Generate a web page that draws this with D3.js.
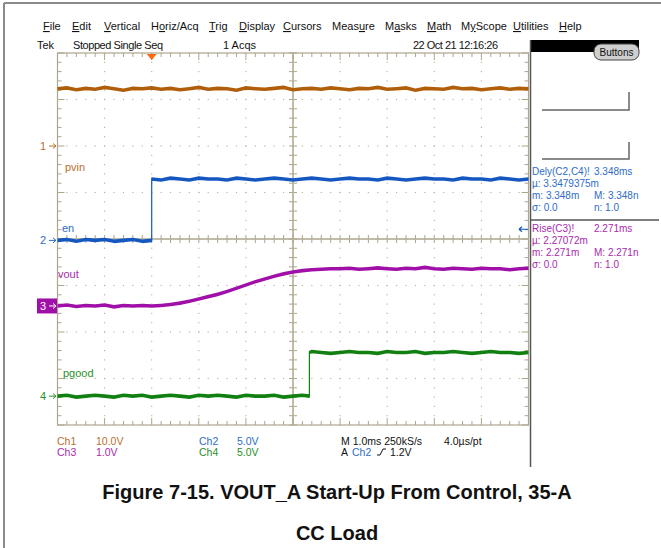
<!DOCTYPE html>
<html>
<head>
<meta charset="utf-8">
<script src="https://cdn.jsdelivr.net/npm/d3@7"></script>
<style>
  body { margin: 0; background: #fff; }
  text { font-family: "Liberation Sans", Arial, sans-serif; }
</style>
</head>
<body>
<div id="scope"></div>
<script>
// scope capture data, times in ms, values in volts
var timeMs = [-2.0,-1.8,-1.6,-1.4,-1.2,-1.0,-0.8,-0.6,-0.4,-0.2,
  0.0,0.2,0.4,0.6,0.8,1.0,1.2,1.4,1.6,1.8,
  2.0,2.2,2.4,2.6,2.8,3.0,3.2,3.4,3.6,3.8,
  4.0,4.2,4.4,4.6,4.8,5.0,5.2,5.4,5.6,5.8,
  6.0,6.2,6.4,6.6,6.8,7.0,7.2,7.4,7.6,7.8,8.0];

var pvinVolts = [12.3,12.5,12.1,12.4,12.2,12.6,12.3,12.0,12.4,12.3,
  12.5,12.2,12.4,12.1,12.3,12.6,12.2,12.4,12.3,12.0,
  12.5,12.3,12.2,12.4,12.6,12.1,12.3,12.4,12.2,12.5,
  12.3,12.1,12.4,12.3,12.6,12.2,12.3,12.5,12.0,12.4,
  12.3,12.2,12.6,12.3,12.4,12.1,12.3,12.5,12.2,12.4,12.3];

var voutVolts = [0.00,0.02,-0.01,0.01,0.00,0.02,-0.02,0.01,0.00,0.01,
  0.00,0.01,0.03,0.06,0.10,0.15,0.20,0.25,0.31,0.38,
  0.45,0.52,0.58,0.64,0.69,0.73,0.76,0.78,0.79,0.80,
  0.80,0.81,0.79,0.80,0.82,0.80,0.79,0.81,0.80,0.83,
  0.80,0.79,0.81,0.80,0.79,0.81,0.80,0.80,0.78,0.80,0.81];

var enTimeMs = [-2.0,-1.8,-1.6,-1.4,-1.2,-1.0,-0.8,-0.6,-0.4,-0.2,
  0.0,0.0,0.2,0.4,0.6,0.8,1.0,1.2,1.4,1.6,1.8,
  2.0,2.2,2.4,2.6,2.8,3.0,3.2,3.4,3.6,3.8,
  4.0,4.2,4.4,4.6,4.8,5.0,5.2,5.4,5.6,5.8,
  6.0,6.2,6.4,6.6,6.8,7.0,7.2,7.4,7.6,7.8,8.0];
var enVolts = [0.0,0.1,-0.1,0.1,0.0,0.1,-0.1,0.0,0.1,-0.1,
  0.0,6.6,6.5,6.7,6.6,6.5,6.7,6.6,6.6,6.5,6.7,
  6.6,6.5,6.6,6.7,6.6,6.5,6.6,6.7,6.6,6.5,
  6.6,6.7,6.6,6.6,6.5,6.7,6.6,6.5,6.6,6.7,
  6.6,6.6,6.5,6.7,6.6,6.6,6.5,6.7,6.6,6.5,6.6];

var pgoodTimeMs = [-2.0,-1.8,-1.6,-1.4,-1.2,-1.0,-0.8,-0.6,-0.4,-0.2,
  0.0,0.2,0.4,0.6,0.8,1.0,1.2,1.4,1.6,1.8,
  2.0,2.2,2.4,2.6,2.8,3.0,3.2,3.348,3.348,3.4,3.6,3.8,
  4.0,4.2,4.4,4.6,4.8,5.0,5.2,5.4,5.6,5.8,
  6.0,6.2,6.4,6.6,6.8,7.0,7.2,7.4,7.6,7.8,8.0];
var pgoodVolts = [0.0,0.1,-0.1,0.0,0.1,0.0,-0.1,0.1,0.0,0.1,
  -0.1,0.0,0.1,0.0,-0.1,0.1,0.0,0.1,0.0,-0.1,
  0.1,0.0,0.0,0.1,-0.1,0.0,0.1,0.0,4.7,4.8,4.7,4.6,
  4.7,4.8,4.7,4.7,4.6,4.8,4.7,4.7,4.8,4.6,
  4.7,4.7,4.8,4.7,4.6,4.7,4.8,4.7,4.7,4.6,4.7];

var menuItems = ["File","Edit","Vertical","Horiz/Acq","Trig","Display","Cursors","Measure","Masks","Math","MyScope","Utilities","Help"];
var menuUnderline = [0,0,0,1,0,0,0,4,1,0,1,0,0];

var W = 661, H = 548;
var gLeft = 57.5, gRight = 528.5, gTop = 53, gBottom = 425;

var svg = d3.select("#scope").append("svg")
  .attr("width", W).attr("height", H);

var x = d3.scaleLinear().domain([-2, 8]).range([gLeft, gRight]);
var yDiv = d3.scaleLinear().domain([-4, 4]).range([gBottom, gTop]);

// channel settings: ground position (divisions) and V/div
var ch = {
  pvin:  { offset: 2.0,   vdiv: 10, color: "#b05e0a", text: "#b8702e" },
  en:    { offset: -0.03, vdiv: 5,  color: "#1557c0", text: "#2d6cc8" },
  vout:  { offset: -1.44, vdiv: 1,  color: "#a010a8", text: "#a82aae" },
  pgood: { offset: -3.38, vdiv: 5,  color: "#118011", text: "#2a8f2a" }
};

// outer frame
svg.append("line").attr("x1", 4).attr("x2", 4).attr("y1", 3).attr("y2", H)
  .attr("stroke", "#8a8a8a").attr("stroke-width", 2);
svg.append("line").attr("x1", 4).attr("x2", W).attr("y1", 3).attr("y2", 3)
  .attr("stroke", "#8a8a8a").attr("stroke-width", 2);

// menu bar
var mx = [43, 72, 104, 151, 209, 239, 283, 332, 385, 427, 461, 513, 559];
menuItems.forEach(function(m, i) {
  var t = svg.append("text").attr("x", mx[i]).attr("y", 30)
    .attr("font-size", 11).attr("fill", "#111");
  var u = menuUnderline[i];
  if (u > 0) t.append("tspan").text(m.slice(0, u));
  t.append("tspan").attr("text-decoration", "underline").text(m[u]);
  t.append("tspan").text(m.slice(u + 1));
});

// status line
var st = svg.append("g").attr("font-size", 11).attr("fill", "#111");
st.append("text").attr("x", 37).attr("y", 49).text("Tek");
st.append("text").attr("x", 73).attr("y", 49).attr("textLength", 90).text("Stopped  Single Seq");
st.append("text").attr("x", 223).attr("y", 49).text("1 Acqs");
st.append("text").attr("x", 413).attr("y", 49).attr("textLength", 85).text("22 Oct 21 12:16:26");

svg.append("rect").attr("x", 530).attr("y", 40).attr("width", 109).attr("height", 12).attr("fill", "#000");
svg.append("rect").attr("x", 594).attr("y", 44).attr("width", 45).attr("height", 16).attr("rx", 7)
  .attr("fill", "#cfcfcf").attr("stroke", "#444");
svg.append("text").attr("x", 616.5).attr("y", 56).attr("text-anchor", "middle")
  .attr("font-size", 10).attr("fill", "#111").text("Buttons");

// right panel divider
svg.append("line").attr("x1", 530.5).attr("x2", 530.5).attr("y1", 40).attr("y2", 467)
  .attr("stroke", "#555").attr("stroke-width", 1.5);

// bracket boxes
[[92, 110], [142, 159]].forEach(function(b) {
  svg.append("path").attr("d", "M542," + b[1] + "H629V" + b[0])
    .attr("fill", "none").attr("stroke", "#666").attr("stroke-width", 1.5);
});

// graticule
var grid = svg.append("g").attr("stroke", "#ada58c").attr("fill", "none");
var divX = d3.range(-2, 8.01, 1);
var divY = d3.range(-4, 4.01, 1);
var minorX = d3.range(-2, 8.001, 0.2);
var minorY = d3.range(-4, 4.001, 0.2);

// dotted grid
var dots = svg.append("g").attr("fill", "#bdb69e");
divX.slice(1, -1).forEach(function(t) {
  minorY.forEach(function(v) {
    dots.append("rect").attr("x", x(t) - 0.6).attr("y", yDiv(v) - 0.6)
      .attr("width", 1.2).attr("height", 1.2);
  });
});
divY.slice(1, -1).forEach(function(v) {
  minorX.forEach(function(t) {
    dots.append("rect").attr("x", x(t) - 0.6).attr("y", yDiv(v) - 0.6)
      .attr("width", 1.2).attr("height", 1.2);
  });
});

grid.append("rect").attr("x", gLeft).attr("y", gTop)
  .attr("width", gRight - gLeft).attr("height", gBottom - gTop).attr("stroke-width", 1.2);
grid.append("line").attr("x1", x(3)).attr("x2", x(3)).attr("y1", gTop).attr("y2", gBottom).attr("stroke-width", 1.5);
grid.append("line").attr("x1", gLeft).attr("x2", gRight).attr("y1", yDiv(0)).attr("y2", yDiv(0)).attr("stroke-width", 1.5);

minorX.forEach(function(t, i) {
  var len = i % 5 === 0 ? 7 : 4;
  grid.append("line").attr("x1", x(t)).attr("x2", x(t)).attr("y1", gTop).attr("y2", gTop + len);
  grid.append("line").attr("x1", x(t)).attr("x2", x(t)).attr("y1", gBottom).attr("y2", gBottom - len);
  grid.append("line").attr("x1", x(t)).attr("x2", x(t)).attr("y1", yDiv(0) - 4).attr("y2", yDiv(0) + 4);
});
minorY.forEach(function(v, i) {
  var len = i % 5 === 0 ? 7 : 4;
  grid.append("line").attr("y1", yDiv(v)).attr("y2", yDiv(v)).attr("x1", gLeft).attr("x2", gLeft + len);
  grid.append("line").attr("y1", yDiv(v)).attr("y2", yDiv(v)).attr("x1", gRight).attr("x2", gRight - len);
  grid.append("line").attr("y1", yDiv(v)).attr("y2", yDiv(v)).attr("x1", x(3) - 4).attr("x2", x(3) + 4);
});

// trigger position marker
svg.append("path")
  .attr("d", "M" + (x(0) - 5) + "," + (gTop + 1) + "L" + (x(0) + 5) + "," + (gTop + 1) + "L" + x(0) + "," + (gTop + 7) + "Z")
  .attr("fill", "#ff6a10");

// traces: drawn in a y-squashed group so the noise band is thick but edges stay thin
var SQ = 3;
var traceG = svg.append("g").attr("transform", "scale(1," + SQ + ")");
function trace(c, ts, vs) {
  var cfg = ch[c];
  var pts = ts.map(function(t, i) { return [t, vs[i]]; });
  var line = d3.line()
    .x(function(d) { return x(d[0]); })
    .y(function(d) { return yDiv(cfg.offset + d[1] / cfg.vdiv) / SQ; });
  traceG.append("path").datum(pts).attr("d", line)
    .attr("fill", "none").attr("stroke", cfg.color).attr("stroke-width", 1.2)
    .attr("stroke-linejoin", "round");
}
trace("pvin", timeMs, pvinVolts);
trace("en", enTimeMs, enVolts);
trace("vout", timeMs, voutVolts);
trace("pgood", pgoodTimeMs, pgoodVolts);

// trace labels
var labels = [["pvin", 65, 171], ["en", 62, 232], ["vout", 58, 278], ["pgood", 63, 377]];
labels.forEach(function(l) {
  svg.append("text").attr("x", l[1]).attr("y", l[2]).attr("font-size", 11)
    .attr("fill", ch[l[0]].text).text(l[0]);
});

// ground markers
var markers = [["pvin", "1"], ["en", "2"], ["vout", "3"], ["pgood", "4"]];
markers.forEach(function(m) {
  var cfg = ch[m[0]];
  var yy = yDiv(cfg.offset);
  if (m[1] === "3") {
    svg.append("rect").attr("x", 37).attr("y", yy - 7.5).attr("width", 20).attr("height", 15).attr("fill", cfg.color);
  }
  var col = m[1] === "3" ? "#fff" : cfg.text;
  svg.append("text").attr("x", 46).attr("y", yy + 4).attr("text-anchor", "end")
    .attr("font-size", 11).attr("fill", col).text(m[1]);
  svg.append("path").attr("d", "M49," + yy + "H56M53," + (yy - 2.5) + "L56," + yy + "L53," + (yy + 2.5))
    .attr("fill", "none").attr("stroke", col).attr("stroke-width", 1);
});

// trigger level arrow (Ch2, 1.2 V)
var trigY = yDiv(ch.en.offset + 1.2 / ch.en.vdiv);
svg.append("path").attr("d", "M519," + trigY + "H528M519," + trigY + "L522," + (trigY - 2.5) + "M519," + trigY + "L522," + (trigY + 2.5))
  .attr("fill", "none").attr("stroke", "#1557c0").attr("stroke-width", 1.2);

// measurements
var meas = svg.append("g").attr("font-size", 10);
var blue = "#2d6cc8", purple = "#a82aae";
[[532, 175, "Dely(C2,C4)!", blue], [594, 175, "3.348ms", blue],
 [532, 187, "\u00b5:  3.3479375m", blue],
 [532, 199, "m: 3.348m", blue], [594, 199, "M: 3.348n", blue],
 [532, 211, "\u03c3: 0.0", blue], [594, 211, "n:  1.0", blue],
 [532, 232, "Rise(C3)!", purple], [594, 232, "2.271ms", purple],
 [532, 244, "\u00b5:  2.27072m", purple],
 [532, 256, "m: 2.271m", purple], [594, 256, "M: 2.271n", purple],
 [532, 268, "\u03c3: 0.0", purple], [594, 268, "n:  1.0", purple]
].forEach(function(r) {
  meas.append("text").attr("x", r[0]).attr("y", r[1]).attr("fill", r[3]).text(r[2]);
});
svg.append("line").attr("x1", 531).attr("x2", 659).attr("y1", 220).attr("y2", 220)
  .attr("stroke", "#555").attr("stroke-width", 1.5);

// bottom readout
var ro = svg.append("g").attr("font-size", 10.5);
[[57, 445, "Ch1", ch.pvin.text], [96, 445, "10.0V", ch.pvin.text],
 [199, 445, "Ch2", ch.en.text], [237, 445, "5.0V", ch.en.text],
 [57, 456, "Ch3", ch.vout.text], [96, 456, "1.0V", ch.vout.text],
 [199, 456, "Ch4", ch.pgood.text], [237, 456, "5.0V", ch.pgood.text],
 [341, 445, "M 1.0ms 250kS/s", "#111"], [444, 445, "4.0\u00b5s/pt", "#111"],
 [341, 456, "A", "#111"], [352, 456, "Ch2", ch.en.text], [390, 456, "1.2V", "#111"]
].forEach(function(r) {
  ro.append("text").attr("x", r[0]).attr("y", r[1]).attr("fill", r[3]).text(r[2]);
});
svg.append("path").attr("d", "M377,455L380,455L383,449L386,449").attr("fill", "none")
  .attr("stroke", "#111").attr("stroke-width", 1);

// caption
var cap = svg.append("g").attr("font-size", 20).attr("font-weight", "bold")
  .attr("text-anchor", "middle").attr("fill", "#111");
cap.append("text").attr("x", 337).attr("y", 499).text("Figure 7-15. VOUT_A Start-Up From Control, 35-A");
cap.append("text").attr("x", 337).attr("y", 540).text("CC Load");
</script>
</body>
</html>
